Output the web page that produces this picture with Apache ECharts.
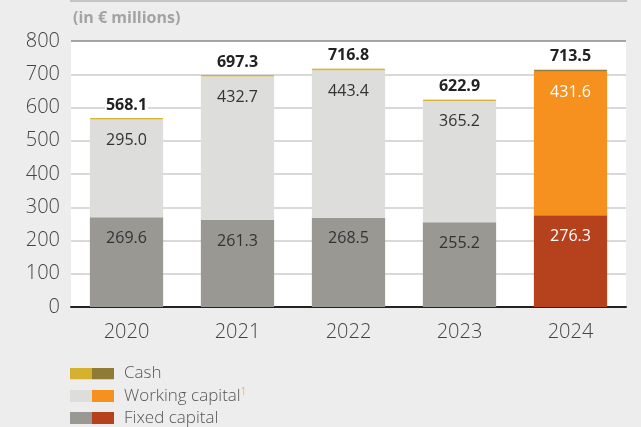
<!DOCTYPE html>
<html>
<head>
<meta charset="utf-8">
<script src="https://cdn.jsdelivr.net/npm/echarts@6/dist/echarts.min.js"></script>
<style>
html,body{margin:0;padding:0;background:#ededed;}
#chart{width:641px;height:427px;}
</style>
</head>
<body>
<div id="chart"></div>
<script>
const years = ['2020','2021','2022','2023','2024'];
const fixedCapital = [269.6, 261.3, 268.5, 255.2, 276.3];
const workingCapital = [295.0, 432.7, 443.4, 365.2, 431.6];
const cash = [3.5, 3.3, 4.9, 2.5, 5.6];
const totals = [568.1, 697.3, 716.8, 622.9, 713.5];
const yTicks = [0, 100, 200, 300, 400, 500, 600, 700, 800];

const colFixed = ['#999893', '#b5411d'];
const colWork = ['#dddddb', '#f6901f'];
const colCash = ['#d4b12e', '#8f7b36'];
const hl = 4; // index of highlighted year

function colored(vals, cols, border) {
  return vals.map((v, i) => {
    const c = i === hl ? cols[1] : cols[0];
    const st = { color: c };
    if (border) { st.borderColor = c; st.borderWidth = border; }
    return { value: v, itemStyle: st };
  });
}
function swatch(c1, c2) {
  const svg = '<svg xmlns="http://www.w3.org/2000/svg" width="44" height="12"><rect x="0" y="0" width="22" height="12" fill="' + c1 + '"/><rect x="22" y="0" width="22" height="12" fill="' + c2 + '"/></svg>';
  return 'image://data:image/svg+xml;charset=utf-8,' + encodeURIComponent(svg);
}
const FONT = '"Open Sans", "Noto Sans", sans-serif';

const chart = echarts.init(document.getElementById('chart'), null, { renderer: 'canvas' });
const gridColors = yTicks.map((t, i) => i === yTicks.length - 1 ? '#8a8a8a' : '#cccccc');

const option = {
  backgroundColor: '#ededed',
  animation: false,
  textStyle: { fontFamily: FONT },
  title: {
    text: '(in € millions)',
    left: 68, top: 5,
    textStyle: { fontFamily: FONT, fontSize: 16, fontWeight: 'bold', color: '#a3a3a3' }
  },
  graphic: [{
    type: 'rect', left: 70, top: 0, shape: { width: 557, height: 2 },
    style: { fill: '#c4c4c4' }, silent: true
  }],
  grid: { left: 71, right: 15, top: 41, bottom: 120, show: true, backgroundColor: '#ffffff', borderWidth: 0 },
  legend: {
    orient: 'vertical', left: 70, top: 365, height: 120, padding: 0,
    itemWidth: 44, itemHeight: 12, itemGap: 5,
    selectedMode: false,
    textStyle: { fontFamily: FONT, fontSize: 17, fontWeight: 300, color: '#555', padding: [0, 0, 0, 5],
      rich: { sup: { fontSize: 10, color: '#f6901f', verticalAlign: 'top', padding: [0, 0, 8, 0], fontFamily: FONT } } },
    formatter: n => n === 'Working capital' ? 'Working capital{sup|1}' : n,
    data: [
      { name: 'Cash', icon: swatch(colCash[0], colCash[1]) },
      { name: 'Working capital', icon: swatch(colWork[0], colWork[1]) },
      { name: 'Fixed capital', icon: swatch(colFixed[0], colFixed[1]) }
    ]
  },
  xAxis: {
    type: 'category', data: years,
    axisLine: { lineStyle: { color: '#222', width: 2 } },
    axisTick: { show: false },
    axisLabel: { fontFamily: FONT, fontSize: 20, fontWeight: 300, color: '#444', margin: 15 }
  },
  yAxis: {
    type: 'value', min: 0, max: 800, interval: 100,
    axisLine: { show: false }, axisTick: { show: false },
    axisLabel: { fontFamily: FONT, fontSize: 20, fontWeight: 300, color: '#444', margin: 11 },
    splitLine: { lineStyle: { color: gridColors, width: 1.5 } }
  },
  series: [
    {
      name: 'Fixed capital', type: 'bar', stack: 'a', barWidth: '66%',
      itemStyle: { color: colFixed[0] },
      data: colored(fixedCapital, colFixed),
      label: {
        show: true, position: 'insideTop', distance: 13,
        fontFamily: FONT, fontSize: 16, color: '#333',
        formatter: p => p.value.toFixed(1)
      }
    },
    {
      name: 'Working capital', type: 'bar', stack: 'a',
      itemStyle: { color: colWork[0] },
      data: colored(workingCapital, colWork),
      label: {
        show: true, position: 'insideTop', distance: 13,
        fontFamily: FONT, fontSize: 16, color: '#333',
        formatter: p => p.value.toFixed(1)
      }
    },
    {
      name: 'Cash', type: 'bar', stack: 'a',
      itemStyle: { color: colCash[0] },
      data: colored(cash, colCash, 1),
      label: {
        show: true, position: 'top', distance: 5,
        fontFamily: FONT, fontSize: 16, fontWeight: 'bold', color: '#222',
        backgroundColor: '#ffffff', padding: [0, 1],
        formatter: p => totals[p.dataIndex].toFixed(1)
      }
    }
  ]
};
// white labels on the highlighted year
option.series[0].data[hl].label = { color: '#ffffff' };
option.series[1].data[hl].label = { color: '#ffffff' };
chart.setOption(option);
</script>
</body>
</html>
